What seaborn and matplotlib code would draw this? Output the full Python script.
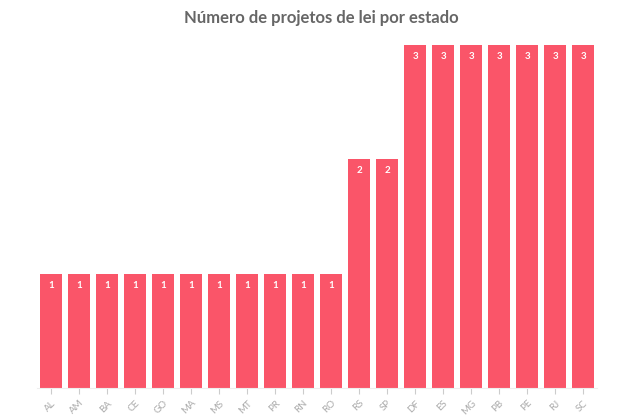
import matplotlib
matplotlib.use("Agg")
import matplotlib.pyplot as plt
import seaborn as sns
import pandas as pd

estados = ["AL", "AM", "BA", "CE", "GO", "MA", "MS", "MT", "PR", "RN", "RO",
           "RS", "SP", "DF", "ES", "MG", "PB", "PE", "RJ", "SC"]
projetos = [1, 1, 1, 1, 1, 1, 1, 1, 1, 1, 1, 2, 2, 3, 3, 3, 3, 3, 3, 3]

df = pd.DataFrame({"estado": estados, "projetos": projetos})
plt.rcParams["font.family"] = "Lato"

fig = plt.figure(figsize=(6.42, 4.2), dpi=100)
ax = fig.add_axes([0.058, 0.076, 0.872, 0.817])
sns.barplot(data=df, x="estado", y="projetos", color="#FA5569", saturation=1,
            width=0.8, ax=ax)

for i, v in enumerate(projetos):
    ax.text(i, v - 0.1, str(v), ha="center", va="center", color="white",
            fontsize=7, fontweight="bold")

ax.set_ylim(0, 3)
ax.set_xlim(-0.5, len(estados) - 0.5)
ax.set_xlabel("")
ax.set_ylabel("")
ax.set_yticks([])
for s in ["top", "right", "left"]:
    ax.spines[s].set_visible(False)
ax.spines["bottom"].set_color("#eeeeee")
ax.tick_params(axis="x", colors="#cccccc", labelcolor="#aaaaaa", labelsize=7,
               length=4)
plt.setp(ax.get_xticklabels(), rotation=45, ha="right", rotation_mode="anchor")

fig.suptitle("Número de projetos de lei por estado", y=0.975, fontsize=12,
             fontweight="bold", color="#666666")
fig.savefig("out.png", dpi=100)
